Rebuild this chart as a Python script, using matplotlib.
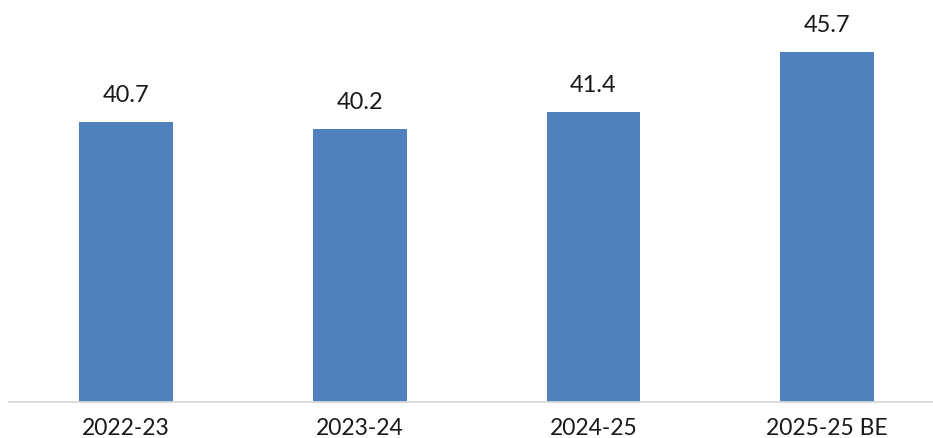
import matplotlib
matplotlib.use("Agg")
import matplotlib.pyplot as plt

categories = ["2022-23", "2023-24", "2024-25", "2025-25 BE"]
values = [40.7, 40.2, 41.4, 45.7]

bar_color = "#4F81BD"
axis_color = "#D9D9D9"

plt.rcParams["font.family"] = ["Lato", "DejaVu Sans"]

fig = plt.figure(figsize=(9.33, 4.39), dpi=100)
ax = fig.add_axes([9.3 / 933, 1 - 402.7 / 439, 1 - 9.3 / 933, 402.7 / 439])

x = range(len(categories))
bars = ax.bar(x, values, width=0.4, color=bar_color)

ax.set_xlim(-0.5, 3.453)
ax.set_ylim(20.53, 49.54)

for rect, v in zip(bars, values):
    ax.annotate(f"{v:.1f}", (rect.get_x() + rect.get_width() / 2, v),
                xytext=(0, 15), textcoords="offset points",
                ha="center", va="baseline", fontsize=17, color="#1a1a1a")

for side in ("top", "right", "left"):
    ax.spines[side].set_visible(False)
ax.spines["bottom"].set_color(axis_color)
ax.spines["bottom"].set_linewidth(1.3)
ax.set_yticks([])
ax.set_xticks(list(x))
ax.set_xticklabels(categories, fontsize=16.5, color="#1a1a1a")
ax.tick_params(axis="x", length=0, pad=11)

fig.savefig("out.png", dpi=100)
